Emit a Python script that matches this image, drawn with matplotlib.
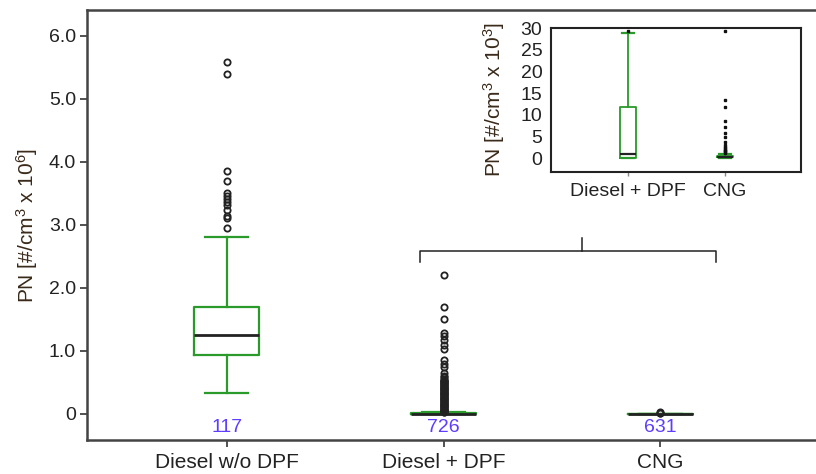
import matplotlib
matplotlib.use("Agg")
import matplotlib.pyplot as plt

plt.rcParams['font.family'] = ['Liberation Sans', 'DejaVu Sans']
plt.rcParams['mathtext.fontset'] = 'custom'
plt.rcParams['mathtext.rm'] = 'Liberation Sans'
plt.rcParams['mathtext.it'] = 'Liberation Sans'

GREEN = '#2a9a2a'
BLUE = '#5f3cff'
DARK = '#333333'

# main panel, PN in 10^6 #/cm3
groups = ['Diesel w/o DPF', 'Diesel + DPF', 'CNG']
counts = ['117', '726', '631']
q1 = [0.94, 0.0003, 0.0002]
med = [1.25, 0.0013, 0.0004]
q3 = [1.70, 0.0118, 0.0006]
whislo = [0.34, 0.0, 0.0]
whishi = [2.81, 0.0288, 0.0010]
fliers_nodpf = [5.58, 5.40, 3.86, 3.70, 3.51, 3.46, 3.41, 3.36, 3.32,
                3.24, 3.14, 3.11, 2.95]
fliers_dpf = [2.21, 1.70, 1.51, 1.29, 1.24, 1.17, 1.10, 1.03, 0.86, 0.80,
              0.75, 0.65, 0.61, 0.59, 0.56, 0.54, 0.53, 0.52, 0.51, 0.50,
              0.49, 0.48, 0.47, 0.46, 0.45, 0.44, 0.43, 0.42, 0.41, 0.40,
              0.39, 0.38, 0.37, 0.36, 0.35, 0.34, 0.33, 0.32, 0.31, 0.30,
              0.29, 0.28, 0.27, 0.26, 0.25, 0.24, 0.23, 0.22, 0.21, 0.20,
              0.19, 0.18, 0.17, 0.16, 0.15, 0.14, 0.13, 0.12, 0.11, 0.10,
              0.09, 0.08, 0.07, 0.06, 0.05, 0.045, 0.04, 0.035, 0.03]
fliers_cng = [0.0294, 0.0134, 0.0118]

# inset, PN in 10^3 #/cm3
inset_groups = ['Diesel + DPF', 'CNG']
in_q1 = [0.15, 0.2]
in_med = [1.0, 0.37]
in_q3 = [11.75, 0.6]
in_lo = [0.0, 0.0]
in_hi = [28.8, 1.0]
in_fliers_dpf = [29.4]
in_fliers_cng = [29.4, 13.4, 11.75, 8.7, 7.1, 5.8, 4.8, 3.8, 3.1, 2.6,
                 2.3, 2.0, 1.8, 1.6, 1.4, 1.2]

fig = plt.figure(figsize=(8.16, 4.74), dpi=100)
ax = fig.add_axes([0.1066, 0.0717, 0.9, 0.907])

stats = []
for i, fl in enumerate([fliers_nodpf, fliers_dpf, fliers_cng]):
    stats.append(dict(q1=q1[i], med=med[i], q3=q3[i], whislo=whislo[i],
                      whishi=whishi[i], fliers=fl))
ax.bxp(stats, positions=[1, 2, 3], widths=0.30, capwidths=0.2,
       boxprops=dict(color=GREEN, lw=1.6),
       whiskerprops=dict(color=GREEN, lw=1.6),
       capprops=dict(color=GREEN, lw=1.6),
       medianprops=dict(color='#222222', lw=2.0),
       flierprops=dict(marker='o', markersize=4.5, markerfacecolor='none',
                       markeredgecolor='#222222', markeredgewidth=1.3))
for i, c in enumerate(counts):
    ax.text(i + 1, -0.22, c, color=BLUE, fontsize=14, ha='center', va='center')

ax.set_xlim(0.355, 3.743)
ax.set_ylim(-0.413, 6.41)
ax.set_yticks([0, 1, 2, 3, 4, 5, 6])
ax.set_yticklabels(['0', '1.0', '2.0', '3.0', '4.0', '5.0', '6.0'])
ax.set_xticks([1, 2, 3])
ax.set_xticklabels(groups)
ax.tick_params(axis='both', colors=DARK, labelcolor='#222222',
               length=5, width=1.2)
ax.tick_params(axis='y', labelsize=14, pad=3)
ax.tick_params(axis='x', labelsize=15, pad=4)
for s in ['left', 'bottom', 'top']:
    ax.spines[s].set_linewidth(1.8)
    ax.spines[s].set_color('#444444')
ax.spines['right'].set_visible(False)
ax.set_ylabel('PN [#/cm$^{3}$ x 10$^{6}$]', fontsize=15, color='#3a2a1a',
              labelpad=6)

# bracket over the two low-emission groups
bx0, bx1, bmid = 1.89, 3.255, 2.64
ax.plot([bx0, bx0, bx1, bx1], [2.41, 2.59, 2.59, 2.41], color='#222222', lw=1.1)
ax.plot([bmid, bmid], [2.59, 2.80], color='#222222', lw=1.1)

# inset
ins = fig.add_axes([0.675, 0.6378, 0.307, 0.3038])
in_stats = []
for i, fl in enumerate([in_fliers_dpf, in_fliers_cng]):
    in_stats.append(dict(q1=in_q1[i], med=in_med[i], q3=in_q3[i],
                         whislo=in_lo[i], whishi=in_hi[i], fliers=fl))
ins.bxp(in_stats, positions=[1, 2], widths=0.16, capwidths=0.12,
        boxprops=dict(color=GREEN, lw=1.3),
        whiskerprops=dict(color=GREEN, lw=1.3),
        capprops=dict(color=GREEN, lw=1.6),
        medianprops=dict(color='#222222', lw=1.6),
        flierprops=dict(marker='s', markersize=1.8, markerfacecolor='#111111',
                        markeredgecolor='#111111'))
ins.set_xlim(0.2, 2.79)
ins.set_ylim(-3.1, 30.1)
ins.set_yticks([0, 5, 10, 15, 20, 25, 30])
ins.set_xticks([1, 2])
ins.set_xticklabels(inset_groups)
ins.tick_params(axis='both', labelsize=14, colors='#888888',
                labelcolor='#222222', length=3, width=1)
ins.tick_params(axis='y', length=0, pad=6)
ins.tick_params(axis='x', pad=5)
for s in ins.spines.values():
    s.set_linewidth(1.5)
    s.set_color('#222222')
ins.set_ylabel('PN [#/cm$^{3}$ x 10$^{3}$]', fontsize=15, color='#3a2a1a',
               labelpad=10)

fig.savefig('out.png', dpi=100)
